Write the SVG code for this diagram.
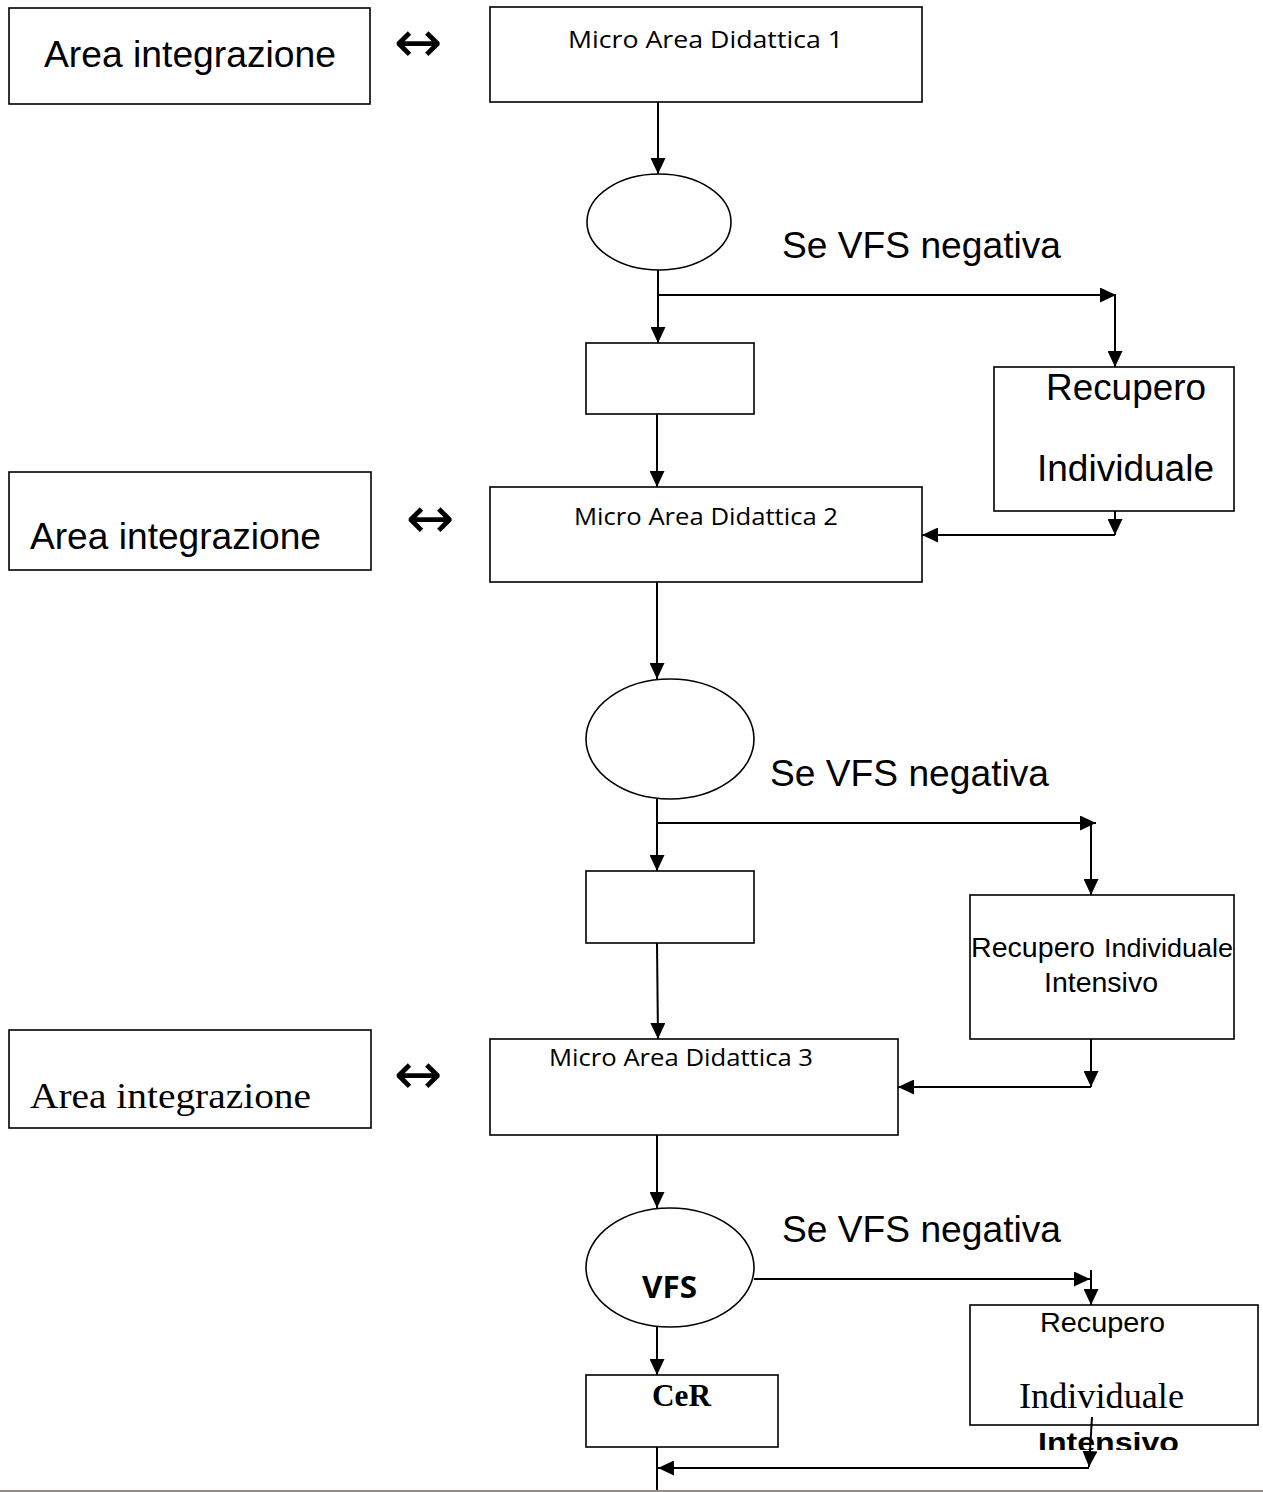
<svg xmlns="http://www.w3.org/2000/svg" width="1263" height="1492" viewBox="0 0 1263 1492">
<style>
.box{fill:#fff;stroke:#000;stroke-width:1.6}
.conn path{fill:none;stroke:#000;stroke-width:2}
.arr{marker-end:url(#ah)}
.sans{font-family:"Liberation Sans",Arial,sans-serif;fill:#000}
.serif{font-family:"Liberation Serif","Times New Roman",serif;fill:#000}
.cal{font-family:"Open Sans","Liberation Sans",sans-serif;fill:#000}
.big{font-size:37px}
.sym{font-family:"DejaVu Sans","Liberation Sans",sans-serif;font-size:58px;fill:#000}
</style>
<defs>
<marker id="ah" markerWidth="16" markerHeight="15" refX="16" refY="7.5" orient="auto" markerUnits="userSpaceOnUse">
<path d="M0,0 L16,7.5 L0,15 z" fill="#000"/>
</marker>
<clipPath id="clipInt"><rect x="960" y="1420" width="300" height="30"/></clipPath>
</defs>
<rect x="0" y="0" width="1263" height="1492" fill="#fff"/>
<rect x="0" y="1490" width="1263" height="2" fill="#909080"/>

<g id="area1">
<rect class="box" x="9" y="8" width="361" height="96"/>
<text class="sans" x="44" y="67" font-size="36" textLength="292" lengthAdjust="spacingAndGlyphs">Area integrazione</text>
</g>
<g id="sym1"><text class="sym" x="418" y="62" text-anchor="middle">↔</text></g>
<g id="mad1">
<rect class="box" x="490" y="7" width="432" height="95"/>
<text class="cal" x="568" y="48" font-size="23" textLength="275" lengthAdjust="spacingAndGlyphs">Micro Area Didattica 1</text>
</g>
<g id="vfs1">
<ellipse class="box" cx="659" cy="222" rx="72" ry="48"/>
</g>
<g id="label1"><text class="sans" x="782" y="258" font-size="36" textLength="279" lengthAdjust="spacingAndGlyphs">Se VFS negativa</text></g>
<g id="small1"><rect class="box" x="586" y="343" width="168" height="71"/></g>
<g id="rec1">
<rect class="box" x="994" y="367" width="240" height="144"/>
<text class="sans big" x="1046" y="400" textLength="160" lengthAdjust="spacingAndGlyphs">Recupero</text>
<text class="sans big" x="1037" y="481" textLength="177" lengthAdjust="spacingAndGlyphs">Individuale</text>
</g>

<g id="area2">
<rect class="box" x="9" y="472" width="362" height="98"/>
<text class="sans" x="30" y="549" font-size="36" textLength="291" lengthAdjust="spacingAndGlyphs">Area integrazione</text>
</g>
<g id="sym2"><text class="sym" x="430" y="538" text-anchor="middle">↔</text></g>
<g id="mad2">
<rect class="box" x="490" y="487" width="432" height="95"/>
<text class="cal" x="574" y="525" font-size="23" textLength="264" lengthAdjust="spacingAndGlyphs">Micro Area Didattica 2</text>
</g>
<g id="vfs2"><ellipse class="box" cx="670" cy="739" rx="84" ry="60"/></g>
<g id="label2"><text class="sans" x="770" y="786" font-size="36" textLength="279" lengthAdjust="spacingAndGlyphs">Se VFS negativa</text></g>
<g id="small2"><rect class="box" x="586" y="871" width="168" height="72"/></g>
<g id="rec2">
<rect class="box" x="970" y="895" width="264" height="144"/>
<text class="sans" x="971" y="957" font-size="28" textLength="124" lengthAdjust="spacingAndGlyphs">Recupero</text>
<text class="sans" x="1104" y="957" font-size="26" textLength="129" lengthAdjust="spacingAndGlyphs">Individuale</text>
<text class="sans" x="1044" y="992" font-size="28" textLength="114" lengthAdjust="spacingAndGlyphs">Intensivo</text>
</g>

<g id="area3">
<rect class="box" x="9" y="1030" width="362" height="98"/>
<text class="serif" x="30" y="1108" font-size="36" textLength="281" lengthAdjust="spacingAndGlyphs">Area integrazione</text>
</g>
<g id="sym3"><text class="sym" x="418" y="1094" text-anchor="middle">↔</text></g>
<g id="mad3">
<rect class="box" x="490" y="1039" width="408" height="96"/>
<text class="cal" x="549" y="1066" font-size="23" textLength="264" lengthAdjust="spacingAndGlyphs">Micro Area Didattica 3</text>
</g>
<g id="vfs3">
<ellipse class="box" cx="670" cy="1267.5" rx="84" ry="59.5"/>
<text class="cal" x="642" y="1298" font-size="30" font-weight="bold" textLength="55" lengthAdjust="spacingAndGlyphs">VFS</text>
</g>
<g id="label3"><text class="sans" x="782" y="1242" font-size="36" textLength="279" lengthAdjust="spacingAndGlyphs">Se VFS negativa</text></g>
<g id="cer">
<rect class="box" x="586" y="1375" width="192" height="72"/>
<text class="serif" x="652" y="1406" font-size="31" font-weight="bold" textLength="59" lengthAdjust="spacingAndGlyphs">CeR</text>
</g>
<g id="rec3">
<rect class="box" x="970" y="1305" width="288" height="120"/>
<text class="sans" x="1040" y="1332" font-size="28" textLength="125" lengthAdjust="spacingAndGlyphs">Recupero</text>
<text class="serif" x="1019" y="1408" font-size="35" textLength="165" lengthAdjust="spacingAndGlyphs">Individuale</text>
<text class="sans" x="1038" y="1452" font-size="28" font-weight="bold" textLength="141" lengthAdjust="spacingAndGlyphs" clip-path="url(#clipInt)">Intensivo</text>
</g>

<g id="connectors" class="conn">
<path class="arr" d="M658,102 V174"/>
<path class="arr" d="M658,270 V343"/>
<path class="arr" d="M658,295 H1116"/>
<path class="arr" d="M1115,295 V367"/>
<path class="arr" d="M657,414 V487"/>
<path class="arr" d="M1115,511 V535"/>
<path class="arr" d="M1115,535 H922"/>
<path class="arr" d="M657,582 V679"/>
<path class="arr" d="M657,799 V871"/>
<path class="arr" d="M657,823 H1096"/>
<path class="arr" d="M1091,823 V895"/>
<path class="arr" d="M657,943 L658,1039"/>
<path class="arr" d="M1091,1039 V1087"/>
<path class="arr" d="M1091,1087 H898"/>
<path class="arr" d="M657,1135 V1208"/>
<path class="arr" d="M754,1279 H1090"/>
<path class="arr" d="M1091,1270 V1305"/>
<path class="arr" d="M657,1327 V1375"/>
<path class="arr" d="M1092,1417 L1089,1467"/>
<path class="arr" d="M1089,1468 H658"/>
<path d="M657,1447 V1490"/>
</g>
</svg>
